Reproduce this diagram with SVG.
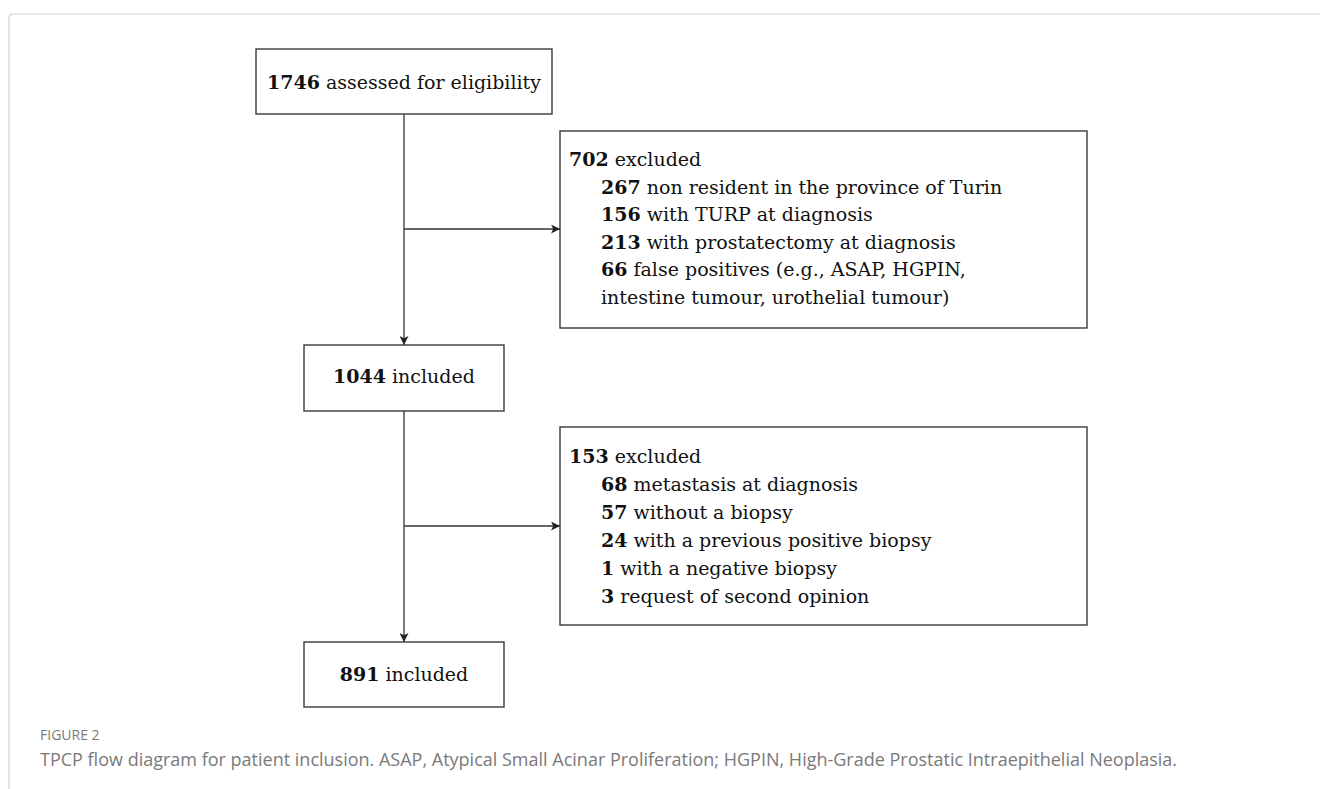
<svg xmlns="http://www.w3.org/2000/svg" width="1320" height="789" viewBox="0 0 1320 789">
<style>
.bg{fill:#ffffff}
.frame{fill:none;stroke:#cfcfcf;stroke-width:1.2}
.box{fill:#ffffff;stroke:#3a3a3a;stroke-width:1.4}
.t{font-family:"DejaVu Serif","Liberation Serif",serif;font-size:19px;fill:#111}
.b{font-weight:bold}
.conn{fill:none;stroke:#333;stroke-width:1.3}
.figlab{font-family:"Open Sans","Noto Sans",sans-serif;font-size:14px;fill:#7a7a7a}
.cap{font-family:"Open Sans","Noto Sans",sans-serif;font-size:18px;fill:#7a7a7a}
</style>
<defs>
<marker id="arr" viewBox="0 0 10 10" refX="10" refY="5" markerWidth="9" markerHeight="9" markerUnits="userSpaceOnUse" orient="auto">
<path d="M0,0 L10,5 L0,10 L2.5,5 Z" fill="#222"/>
</marker>
</defs>
<rect class="bg" x="0" y="0" width="1320" height="789"/>
<path class="frame" d="M9,789 V18 Q9,14 13,14 H1320"/>

<g id="connectors">
<line class="conn" x1="404" y1="114" x2="404" y2="345" marker-end="url(#arr)"/>
<line class="conn" x1="404" y1="229" x2="560" y2="229" marker-end="url(#arr)"/>
<line class="conn" x1="404" y1="411" x2="404" y2="642" marker-end="url(#arr)"/>
<line class="conn" x1="404" y1="526" x2="560" y2="526" marker-end="url(#arr)"/>
</g>

<g id="assessed">
<rect class="box" x="256" y="49" width="296" height="65"/>
<text class="t" x="404" y="89" text-anchor="middle"><tspan class="b">1746</tspan> assessed for eligibility</text>
</g>

<g id="excluded1">
<rect class="box" x="560" y="131" width="527" height="197"/>
<text class="t" x="569" y="166"><tspan class="b">702</tspan> excluded</text>
<text class="t" x="601" y="193.5"><tspan class="b">267</tspan> non resident in the province of Turin</text>
<text class="t" x="601" y="221"><tspan class="b">156</tspan> with TURP at diagnosis</text>
<text class="t" x="601" y="248.5"><tspan class="b">213</tspan> with prostatectomy at diagnosis</text>
<text class="t" x="601" y="276"><tspan class="b">66</tspan> false positives (e.g., ASAP, HGPIN,</text>
<text class="t" x="601" y="303.5">intestine tumour, urothelial tumour)</text>
</g>

<g id="included1">
<rect class="box" x="304" y="345" width="200" height="66"/>
<text class="t" x="404" y="383" text-anchor="middle"><tspan class="b">1044</tspan> included</text>
</g>

<g id="excluded2">
<rect class="box" x="560" y="427" width="527" height="198"/>
<text class="t" x="569" y="463"><tspan class="b">153</tspan> excluded</text>
<text class="t" x="601" y="491"><tspan class="b">68</tspan> metastasis at diagnosis</text>
<text class="t" x="601" y="519"><tspan class="b">57</tspan> without a biopsy</text>
<text class="t" x="601" y="547"><tspan class="b">24</tspan> with a previous positive biopsy</text>
<text class="t" x="601" y="575"><tspan class="b">1</tspan> with a negative biopsy</text>
<text class="t" x="601" y="603"><tspan class="b">3</tspan> request of second opinion</text>
</g>

<g id="included2">
<rect class="box" x="304" y="642" width="200" height="65"/>
<text class="t" x="404" y="681" text-anchor="middle"><tspan class="b">891</tspan> included</text>
</g>

<g id="caption">
<text class="figlab" x="40" y="740">FIGURE 2</text>
<text class="cap" x="40" y="766">TPCP flow diagram for patient inclusion. ASAP, Atypical Small Acinar Proliferation; HGPIN, High-Grade Prostatic Intraepithelial Neoplasia.</text>
</g>
</svg>
